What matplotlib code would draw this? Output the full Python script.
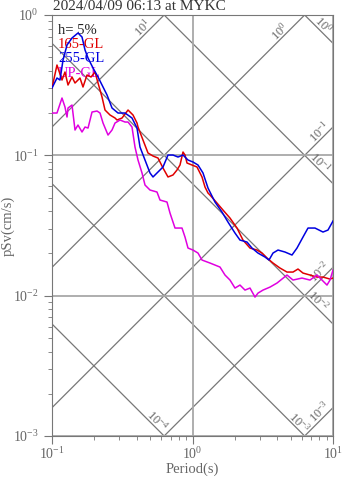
import numpy as np
import matplotlib
matplotlib.use('Agg')
import matplotlib.pyplot as plt

plt.rcParams['font.family'] = ['Liberation Serif', 'DejaVu Serif']

# period (s) / pSv (cm/s)
t_165 = [0.1, 0.1085, 0.1178, 0.1237, 0.1300, 0.1388, 0.1458, 0.1582, 0.1662, 0.1775,
         0.1896, 0.2024, 0.2126, 0.2270, 0.2384, 0.2588, 0.2809, 0.2903, 0.3151, 0.3477,
         0.3772, 0.4027, 0.4094, 0.4443, 0.4823, 0.5235, 0.5682, 0.6167, 0.6693, 0.7264,
         0.7757, 0.8148, 0.8559, 0.8844, 0.9139, 0.9918, 1.0766, 1.1685, 1.2274, 1.2892,
         1.3322, 1.4939, 1.6482, 1.8486, 2.0734, 2.2876, 2.5656, 2.8777, 3.1235, 3.3903,
         3.7407, 4.1957, 4.7050, 5.1919, 5.6338, 6.1157, 6.8591, 7.6927, 8.4874, 9.5191, 10.0]
sv_165 = [0.3018, 0.4400, 0.3441, 0.3924, 0.3170, 0.3615, 0.3276, 0.3556, 0.3068, 0.3736,
          0.3615, 0.3924, 0.3276, 0.2603, 0.2103, 0.1938, 0.1845, 0.1785, 0.1845, 0.2103,
          0.1938, 0.1699, 0.1591, 0.1285, 0.1039, 0.09886, 0.09566, 0.08123, 0.07011, 0.07244,
          0.07862, 0.08532, 0.1056, 0.1005, 0.08815, 0.08532, 0.08257, 0.07011, 0.05944, 0.05388,
          0.05214, 0.04571, 0.04074, 0.03573, 0.03033, 0.02490, 0.02184, 0.02114, 0.02012, 0.01854,
          0.01708, 0.01573, 0.01473, 0.01473, 0.01548, 0.01449, 0.01403, 0.01357, 0.01357, 0.01313, 0.01335]

t_255 = [0.1, 0.1085, 0.1140, 0.1198, 0.1279, 0.1388, 0.1531, 0.1635, 0.1718, 0.1805,
         0.1959, 0.2126, 0.2308, 0.2464, 0.2674, 0.2951, 0.3310, 0.3710, 0.4027, 0.4230,
         0.4592, 0.4984, 0.5235, 0.5682, 0.6167, 0.6693, 0.7264, 0.7885, 0.8559, 0.9290,
         1.0082, 1.0943, 1.1878, 1.2892, 1.4457, 1.6214, 1.7890, 2.0065, 2.1778, 2.4426,
         2.6512, 2.9253, 3.2809, 3.5033, 3.7407, 4.0603, 4.5533, 5.1075, 5.5422, 6.1157,
         6.6378, 7.4445, 8.4874, 9.2121, 10.0]
sv_255 = [0.3018, 0.3556, 0.3441, 0.4777, 0.6111, 0.6856, 0.7443, 0.6969, 0.5630, 0.4937,
          0.4190, 0.3615, 0.3068, 0.2691, 0.2174, 0.2002, 0.2002, 0.1845, 0.1565, 0.1146,
          0.09259, 0.07485, 0.07011, 0.07609, 0.08257, 0.1005, 0.1005, 0.09725, 0.1005, 0.09259,
          0.08961, 0.08532, 0.07485, 0.05848, 0.04647, 0.03943, 0.03346, 0.02795, 0.02490, 0.02410,
          0.02184, 0.02012, 0.01885, 0.01794, 0.02012, 0.02114, 0.02046, 0.01948, 0.02184, 0.02616,
          0.03033, 0.03033, 0.02841, 0.02935, 0.03402]

t_up = [0.1, 0.1085, 0.1178, 0.1237, 0.1279, 0.1300, 0.1388, 0.1458, 0.1531, 0.1635,
        0.1718, 0.1805, 0.1927, 0.2091, 0.2197, 0.2308, 0.2505, 0.2674, 0.2809, 0.3049,
        0.3310, 0.3477, 0.3710, 0.3897, 0.4094, 0.4371, 0.4592, 0.4984, 0.5589, 0.5871,
        0.6584, 0.6916, 0.7507, 0.8419, 0.8844, 0.9290, 1.0082, 1.0943, 1.1685, 1.3322,
        1.5691, 1.7031, 1.8486, 2.0065, 2.1778, 2.3638, 2.5656, 2.7849, 2.9253, 3.1751,
        3.5612, 3.9943, 4.7050, 5.1919, 6.0163, 6.8591, 7.6927, 8.3493, 9.0626, 9.5191, 10.0]
sv_up = [0.2002, 0.2002, 0.2561, 0.2210, 0.1875, 0.2174, 0.2283, 0.1515, 0.1644, 0.1466,
         0.1591, 0.1565, 0.2035, 0.2069, 0.2002, 0.1699, 0.1395, 0.1515, 0.1699, 0.1785,
         0.1727, 0.1727, 0.1591, 0.1146, 0.09259, 0.07485, 0.06142, 0.05659, 0.05477, 0.04802,
         0.04647, 0.03879, 0.03033, 0.03033, 0.02616, 0.02184, 0.02114, 0.02012, 0.01794, 0.01708,
         0.01599, 0.01403, 0.01292, 0.01133, 0.01190, 0.01096, 0.01133, 0.00977, 0.01043, 0.01096,
         0.01151, 0.01230, 0.01403, 0.01292, 0.01335, 0.01292, 0.01403, 0.01292, 0.01190, 0.01292, 0.01522]

names = ['165-GL', '255-GL', 'UP-GL']
colors = ['#e00000', '#0000e0', '#e000e0']

# tripartite guide lines (Sa in gal, D in cm) and where their labels sit
acc_exp = [1, 0, -1, -2, -3]
acc_lab_t = [0.4443, 4.196, 8.08, 8.08, 8.08]
disp_exp = [0, -1, -2, -3, -4]
disp_lab_t = [8.487, 8.08, 7.82, 5.77, 0.559]

fig = plt.figure(figsize=(3.47, 4.78), dpi=100)
ax = fig.add_axes([52/347, 42/478, 281/347, 421/478])
ax.set_xscale('log')
ax.set_yscale('log')
ax.set_xlim(0.1, 10)
ax.set_ylim(1e-3, 1)

ax.grid(which='major', color='#a8a8a8', lw=1.3, zorder=0)

tt = np.logspace(-1, 1, 300)
gcol = '#777777'
for k, tl in zip(acc_exp, acc_lab_t):
    ax.plot(tt, 10.0**k * tt / (2*np.pi), color=gcol, lw=0.9, zorder=1)
    ax.annotate('$\\mathdefault{10^{%d}}$' % k, (tl, 10.0**k * tl / (2*np.pi)),
                xytext=(0, 6), textcoords='offset points', rotation=45,
                ha='center', va='center', fontsize=9, color='#666666')
for k, tl in zip(disp_exp, disp_lab_t):
    ax.plot(tt, 2*np.pi*10.0**k / tt, color=gcol, lw=0.9, zorder=1)
    ax.annotate('$\\mathdefault{10^{%d}}$' % k, (tl, 2*np.pi*10.0**k / tl),
                xytext=(0, 6), textcoords='offset points', rotation=-45,
                ha='center', va='center', fontsize=9, color='#666666')

for t, s, c in zip([t_165, t_255, t_up], [sv_165, sv_255, sv_up], colors):
    ax.plot(t, s, color=c, lw=1.1, zorder=3)

ax.text(0.021, 0.964, 'h= 5%', transform=ax.transAxes, fontsize=10.5,
        color='#222222', va='center', zorder=2)
for i, (n, c) in enumerate(zip(names, colors)):
    ax.text(0.021, 0.930 - i*0.034, n, transform=ax.transAxes, fontsize=10.5,
            color=c, va='center', zorder=2)

for sp in ax.spines.values():
    sp.set_color('#777777')
ax.tick_params(which='both', direction='out', colors='#777777',
               labelcolor='#666666', labelsize=10)
ax.tick_params(which='major', length=6)
ax.tick_params(axis='x', which='major', pad=1.5)
ax.tick_params(which='minor', length=3, labelleft=False, labelbottom=False)
ax.set_xlabel('Period(s)', fontsize=10.5, color='#666666')
ax.set_ylabel('pSv(cm/s)', fontsize=10.5, color='#666666')
ax.xaxis.set_label_coords(0.5, -0.062)
ax.yaxis.set_label_coords(-0.132, 0.5)

fig.text(53/347, 1 - 9.5/478, '2024/04/09 06:13 at MYKC', fontsize=11,
         color='#333333', va='baseline')

fig.savefig('out.png', dpi=100)
